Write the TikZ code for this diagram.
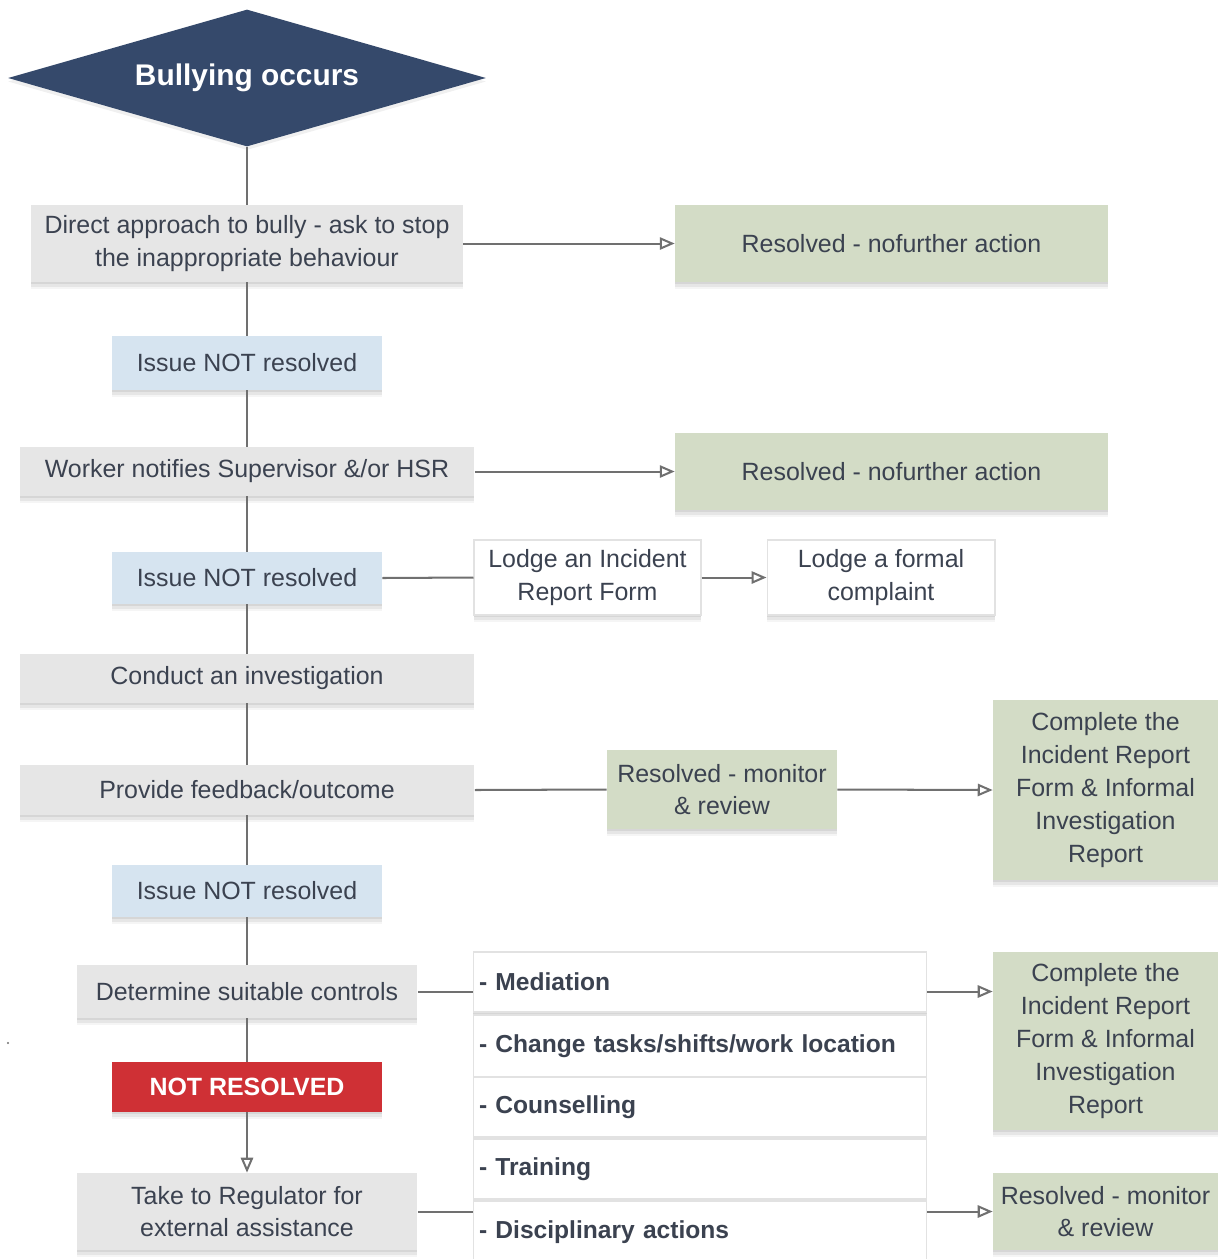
\documentclass[tikz,border=0pt]{standalone}
\usepackage{fontspec}
\setmainfont{Liberation Sans}
\usetikzlibrary{arrows.meta,shapes.geometric,shadows,calc}
\definecolor{navy}{HTML}{35496B}
\definecolor{greybox}{HTML}{E6E6E6}
\definecolor{greenbox}{HTML}{D3DCC6}
\definecolor{bluebox}{HTML}{D6E4F0}
\definecolor{redbox}{HTML}{CF3035}
\definecolor{txt}{HTML}{3B4250}
\definecolor{conn}{HTML}{707070}
\definecolor{edge}{HTML}{E2E2E2}
\tikzset{
  softshadow/.style={
    drop shadow={shadow xshift=0pt, shadow yshift=-1.2pt, opacity=0.07, fill=black},
    drop shadow={shadow xshift=0pt, shadow yshift=-2.6pt, opacity=0.06, fill=black},
    drop shadow={shadow xshift=0pt, shadow yshift=-4pt, opacity=0.04, fill=black}},
  basebox/.style={rectangle, inner sep=0pt, align=center, text=txt,
    font=\fontsize{14.2}{18.7}\selectfont, softshadow},
  greyb/.style={basebox, fill=greybox},
  greenb/.style={basebox, fill=greenbox},
  blueb/.style={basebox, fill=bluebox},
  whiteb/.style={basebox, fill=white, draw=edge, line width=0.6pt},
  listb/.style={basebox, fill=white, draw=edge, line width=0.6pt, minimum width=9.08cm,
    text width=8.84cm, align=left, font=\fontsize{14}{18.7}\selectfont\bfseries},
  redb/.style={basebox, fill=redbox, text=white, font=\fontsize{14.2}{18.7}\selectfont\bfseries},
  line/.style={draw=conn, line width=1.15pt},
  arr/.style={line, -{Triangle[open, length=8.5pt, width=7pt]}},
}
\begin{document}
\begin{tikzpicture}[x=0.02cm, y=-0.02cm]
\useasboundingbox[fill=white] (0,0) rectangle (1218,1259);

% nodes
\node[diamond, fill=navy, inner sep=0pt, aspect=3.49, minimum width=9.56cm, minimum height=2.74cm,
  text=white, font=\fontsize{17}{20}\selectfont\bfseries,
  drop shadow={shadow xshift=0pt, shadow yshift=-2pt, opacity=0.06, fill=black}] (dia) at (247,78) {Bullying occurs};

\node[greyb, minimum width=8.64cm, minimum height=1.54cm] (direct) at (247,243.5)
  {Direct approach to bully - ask to stop\\the inappropriate behaviour};
\node[greenb, minimum width=8.66cm, minimum height=1.54cm] (res1) at (891.5,243.5)
  {Resolved - nofurther action};

\node[blueb, minimum width=5.4cm, minimum height=1.08cm] (nr1) at (247,363) {Issue NOT resolved};

\node[greyb, minimum width=9.1cm, minimum height=0.98cm] (worker) at (247,471.5)
  {Worker notifies Supervisor \&/or HSR};
\node[greenb, minimum width=8.66cm, minimum height=1.54cm] (res2) at (891.5,471.5)
  {Resolved - nofurther action};

\node[blueb, minimum width=5.4cm, minimum height=1.04cm] (nr2) at (247,578) {Issue NOT resolved};
\node[whiteb, minimum width=4.54cm, minimum height=1.5cm] (lodge1) at (587.5,577.5)
  {Lodge an Incident\\Report Form};
\node[whiteb, minimum width=4.56cm, minimum height=1.5cm] (lodge2) at (881,577.5)
  {Lodge a formal\\complaint};

\node[greyb, minimum width=9.1cm, minimum height=0.98cm] (conduct) at (247,678.5)
  {Conduct an investigation};

\node[greyb, minimum width=9.1cm, minimum height=1.0cm] (feedback) at (247,790)
  {Provide feedback/outcome};
\node[greenb, minimum width=4.6cm, minimum height=1.58cm] (monitor1) at (722,789.5)
  {Resolved - monitor\\\& review};
\node[greenb, minimum width=4.5cm, minimum height=3.6cm] (complete1) at (1105.5,790)
  {Complete the\\Incident Report\\Form \& Informal\\Investigation\\Report};

\node[blueb, minimum width=5.4cm, minimum height=1.04cm] (nr3) at (247,891) {Issue NOT resolved};

\node[greyb, minimum width=6.82cm, minimum height=1.06cm] (determine) at (247,991.5)
  {Determine suitable controls};

\node[listb, minimum height=1.2cm] (med) at (700,982) {- Mediation};
\node[listb, minimum height=1.24cm] (change) at (700,1046) {- Change tasks/shifts/work location};
\node[listb, minimum height=1.2cm] (couns) at (700,1107) {- Counselling};
\node[listb, minimum height=1.2cm] (train) at (700,1169) {- Training};
\node[listb, minimum height=1.24cm] (disc) at (700,1232) {- Disciplinary actions};

\node[greenb, minimum width=4.5cm, minimum height=3.56cm] (complete2) at (1105.5,1041)
  {Complete the\\Incident Report\\Form \& Informal\\Investigation\\Report};

\node[redb, minimum width=5.4cm, minimum height=1.0cm] (notres) at (247,1087) {NOT RESOLVED};

\node[greyb, minimum width=6.82cm, minimum height=1.54cm] (regulator) at (247,1211.5)
  {Take to Regulator for\\external assistance};
\node[greenb, minimum width=4.5cm, minimum height=1.54cm] (monitor2) at (1105.5,1211.5)
  {Resolved - monitor\\\& review};

\fill[conn] (8,1043) circle (1.2);

% spine
\draw[line] (dia.south) -- (direct.north);
\draw[line] (direct.south) -- (nr1.north);
\draw[line] (nr1.south) -- (worker.north);
\draw[line] (worker.south) -- (nr2.north);
\draw[line] (nr2.south) -- (conduct.north);
\draw[line] (conduct.south) -- (feedback.north);
\draw[line] (feedback.south) -- (nr3.north);
\draw[line] (nr3.south) -- (determine.north);
\draw[line] (determine.south) -- (notres.north);
\draw[arr] (notres.south) -- (regulator.north);

% side connectors
\draw[arr] (direct.east) -- (res1.west);
\draw[arr] (worker.east) -- (res2.west);
\draw[line] (nr2.east) -- (lodge1.west);
\draw[arr] (lodge1.east) -- (lodge2.west);
\draw[line] (feedback.east) -- (monitor1.west);
\draw[arr] (monitor1.east) -- (complete1.west);
\draw[line] (determine.east) -- (determine.east -| med.west);
\draw[arr] (med.east |- determine.east) -- (complete2.west |- determine.east);
\draw[line] (regulator.east) -- (regulator.east -| disc.west);
\draw[arr] (disc.east |- regulator.east) -- (monitor2.west |- regulator.east);
\end{tikzpicture}
\end{document}
